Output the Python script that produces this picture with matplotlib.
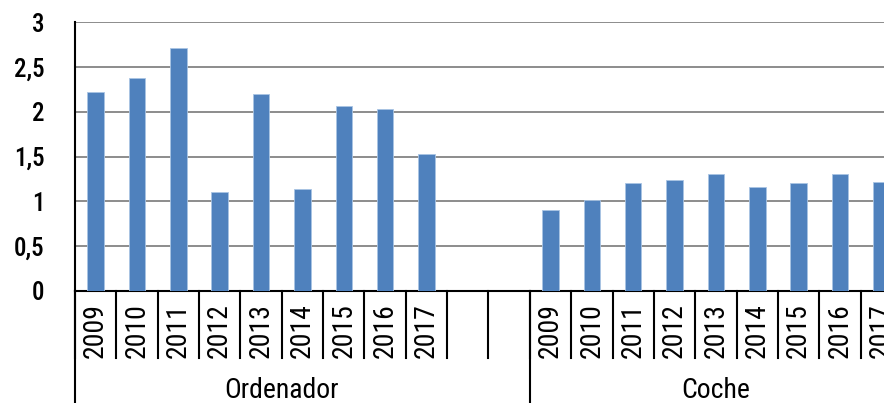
import matplotlib
matplotlib.use('Agg')
import matplotlib.pyplot as plt
import matplotlib.transforms as mtransforms
import numpy as np

GROUPS = ["Ordenador", "Coche"]
YEARS = ["2009", "2010", "2011", "2012", "2013", "2014", "2015", "2016", "2017"]
ORDENADOR = [2.22, 2.37, 2.71, 1.10, 2.20, 1.14, 2.06, 2.03, 1.53]
COCHE = [0.90, 1.02, 1.20, 1.24, 1.31, 1.16, 1.20, 1.31, 1.22]
YTICKS = [0, 0.5, 1, 1.5, 2, 2.5, 3]

FONT = ['Roboto Condensed', 'Liberation Sans', 'DejaVu Sans']
BAR_COLOR = "#4f81bd"

# slots: Ordenador uses 11 slots (9 years + 2 empty), Coche 9
ord_x = np.arange(len(YEARS))
coche_x = np.arange(len(YEARS)) + 11
slot_labels = YEARS + ["", ""] + YEARS
n_slots = len(slot_labels)

W, H = 884, 403
fig = plt.figure(figsize=(W / 100, H / 100), dpi=100)
slot_px = 41.35
ax = fig.add_axes([75 / W, 112 / H, n_slots * slot_px / W, 269 / H])

ax.bar(ord_x, ORDENADOR, width=0.4, color=BAR_COLOR, edgecolor="#a9c4e4", linewidth=0.6, zorder=3)
ax.bar(coche_x, COCHE, width=0.4, color=BAR_COLOR, edgecolor="#a9c4e4", linewidth=0.6, zorder=3)

ax.set_xlim(-0.5, n_slots - 0.5)
ax.set_ylim(0, 3)
ax.set_yticks(YTICKS)
ax.set_yticklabels([("%g" % v).replace(".", ",") for v in YTICKS],
                   fontsize=18, fontweight='medium', family=FONT)
ax.yaxis.grid(True, color="#8c8c8c", linewidth=1.4, zorder=0)
ax.tick_params(axis='y', length=0, pad=22)
ax.set_xticks([])

for s in ["top", "right"]:
    ax.spines[s].set_visible(False)
ax.spines["left"].set_color("black")
ax.spines["left"].set_linewidth(1.5)
ax.spines["bottom"].set_color("black")
ax.spines["bottom"].set_linewidth(1.5)

trans = mtransforms.blended_transform_factory(ax.transData, ax.transAxes)

# category separators
for k in range(n_slots + 1):
    ax.plot([k - 0.5, k - 0.5], [0, -67 / 269], transform=trans, color="black",
            linewidth=1.5, clip_on=False)
# group separators
for xg in [-0.5, 10.5, n_slots - 0.5]:
    ax.plot([xg, xg], [0, -112 / 269], transform=trans, color="black",
            linewidth=1.5, clip_on=False)

for i, lab in enumerate(slot_labels):
    if lab:
        ax.text(i, -40 / 269, lab, transform=trans, rotation=90, ha="center", va="center",
                fontsize=20, family=FONT, clip_on=False)

ax.text(4.5, -99 / 269, GROUPS[0], transform=trans, ha="center", va="center",
        fontsize=20, family=FONT)
ax.text(15, -99 / 269, GROUPS[1], transform=trans, ha="center", va="center",
        fontsize=20, family=FONT)

fig.savefig("out.png", dpi=100)
